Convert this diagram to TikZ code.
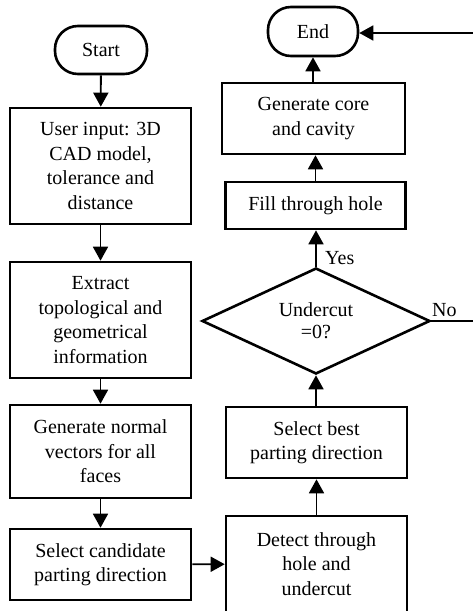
\documentclass[tikz,border=0pt]{standalone}
\usepackage{fontspec}
\setmainfont{Liberation Serif}
\usetikzlibrary{shapes.geometric,arrows.meta}
\begin{document}
\begin{tikzpicture}[x=1pt,y=-1pt,
  every node/.style={font=\fontsize{20}{24.5}\selectfont},
  box/.style={draw, line width=2.6pt, inner sep=0pt, align=center},
  term/.style={draw, line width=2.6pt, rounded corners=23pt, inner sep=0pt, align=center},
  dec/.style={draw, line width=2.6pt, diamond, aspect=2.15, inner sep=0pt, align=center,
    minimum width=228pt, minimum height=106pt, font=\fontsize{20}{22}\selectfont},
  conn/.style={line width=1.8pt, -{Triangle[length=14pt,width=15pt]}},
  lbl/.style={inner sep=0pt}
]
\useasboundingbox (0,0) rectangle (473,611);
\clip (0,0) rectangle (473,611);
\fill[white] (0,0) rectangle (473,611);

\node[term, minimum width=92pt, minimum height=48pt] (start) at (101,50) {Start};
\node[box, minimum width=181pt, minimum height=116pt] (b1) at (100.5,166) {User input: 3D\\CAD model,\\tolerance and\\distance};
\node[box, minimum width=181pt, minimum height=116pt] (b2) at (100.5,320) {Extract\\topological and\\geometrical\\information};
\node[box, minimum width=181pt, minimum height=93pt] (b3) at (100.5,451.5) {Generate normal\\vectors for all\\faces};
\node[box, minimum width=181pt, minimum height=71pt] (b4) at (100.5,564.5) {Select candidate\\parting direction};

\node[box, minimum width=181pt, minimum height=96pt] (det) at (316.5,564) {Detect through\\hole and\\undercut};
\node[box, minimum width=181pt, minimum height=71pt] (best) at (316.5,442.5) {Select best\\parting direction};
\node[dec] (dia) at (316,321) {Undercut\\=0?};
\node[box, minimum width=180pt, minimum height=47pt] (fill) at (315.5,205.5) {Fill through hole};
\node[box, minimum width=183pt, minimum height=71pt] (gen) at (313.5,118.5) {Generate core\\and cavity};
\node[term, minimum width=90pt, minimum height=49pt] (end) at (313,31.5) {End};

\coordinate (loop) at (490,33);

\draw[conn] (start) -- (b1);
\draw[conn] (b1) -- (b2);
\draw[conn] (b2) -- (b3);
\draw[conn] (b3) -- (b4);
\draw[conn] (b4) -- (det);
\draw[conn] (det.north -| best.south) -- (best.south);
\draw[conn] (best.north -| dia.south) -- (dia.south);
\draw[conn] (dia.north) -- (dia.north |- fill.south);
\draw[conn] (fill.north) -- (fill.north |- gen.south);
\draw[conn] (gen.north -| end.south) -- (end.south);
\draw[conn] (dia.east) -| (loop) -- (end.east |- loop);

\node[lbl, anchor=west] (yes) at (325,258) {Yes};
\node[lbl, anchor=west] (no) at (432,310) {No};
\end{tikzpicture}
\end{document}
